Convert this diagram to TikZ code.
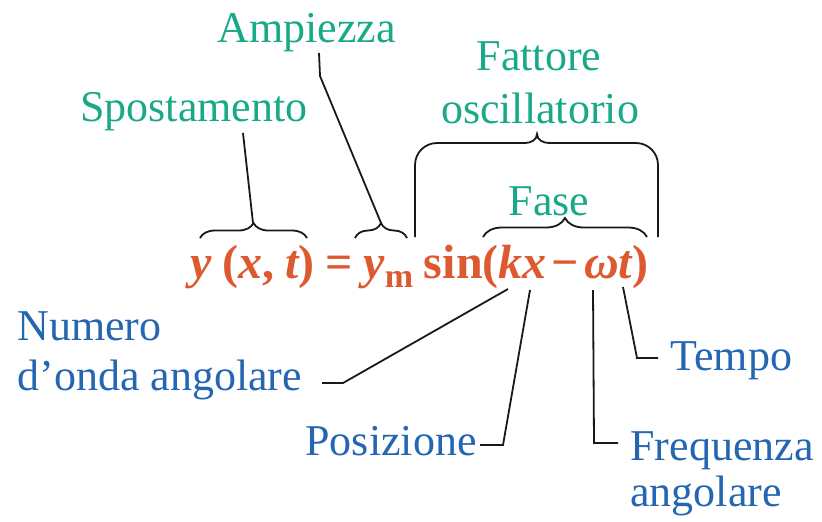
\documentclass[tikz,border=0pt]{standalone}
\usepackage{fontspec}
\setmainfont{Liberation Serif}
\usetikzlibrary{decorations.pathreplacing}
\definecolor{eqred}{RGB}{221,90,48}
\definecolor{labgreen}{RGB}{24,170,136}
\definecolor{labblue}{RGB}{36,102,178}
\tikzset{
  eq/.style   = {font=\fontsize{24}{28}\selectfont\bfseries, text=eqred, inner sep=0pt},
  top/.style  = {font=\fontsize{22}{25}\selectfont, text=labgreen, inner sep=0pt},
  bot/.style  = {font=\fontsize{22}{25}\selectfont, text=labblue, inner sep=0pt},
  lead/.style = {line width=0.9pt, black!90},
  brc/.style  = {line width=0.9pt, black!90, decorate,
                 decoration={brace, amplitude=#1}},
  brc/.default = 7.5pt
}

\begin{document}
\begin{tikzpicture}[x=0.5pt,y=-0.5pt]
  \useasboundingbox (0,0) rectangle (822,521);
  % ---- equation ----
  \node[eq, anchor=base west] (eqn) at (190,278) {\spaceskip=5.4pt\relax
    {\itshape y} ({\itshape x}, {\itshape t}) = {\itshape y}\raisebox{-4.5pt}{\fontsize{17}{17}\selectfont m}
    sin({\itshape kx}\kern2.5pt−\kern2.5pt{\itshape ωt})};
  % ---- upper labels (green) ----
  \node[top, anchor=base west] (ampl) at (217,42) {Ampiezza};
  \node[top, anchor=base west] (spos) at (80,121) {Spostamento};
  \node[top, anchor=base] (fatt1) at (539,70) {Fattore};
  \node[top, anchor=base] (fatt2) at (540,123) {oscillatorio};
  \node[top, anchor=base] (fase) at (549,215) {Fase};
  % ---- lower labels (blue) ----
  \node[bot, anchor=base west] (num1) at (17,340) {Numero};
  \node[bot, anchor=base west] (num2) at (17,390) {d’onda angolare};
  \node[bot, anchor=base east] (posz) at (477,455) {Posizione};
  \node[bot, anchor=base west] (freq1) at (630,460) {Frequenza};
  \node[bot, anchor=base west] (freq2) at (630,506) {angolare};
  \node[bot, anchor=base west] (temp) at (670,370) {Tempo};
  % ---- braces ----
  \draw[brc] (200,238) -- (307,238) coordinate[pos=0.5] (ysmid);
  \draw[brc] (355,238) -- (407,238) coordinate[pos=0.5] (ymmid);
  \draw[brc=9.5pt] (483,237) -- (647,237);
  \draw[line width=0.9pt, black!90] (415,237) -- (415,165)
    to[out=90,in=180] (437,143) -- (525,143) to[out=0,in=-90] (537,134)
    to[out=-90,in=180] (549,143) -- (636,143) to[out=0,in=90] (658,165) -- (658,237);
  % ---- leader lines ----
  \coordinate (spos-a) at (243,133);
  \coordinate (ys-tip) at (253,223);
  \coordinate (ampl-a) at (319,53);
  \coordinate (ampl-b) at (320,76);
  \coordinate (ym-tip) at (381,223);
  \coordinate (num-a)  at (322,383);
  \coordinate (num-b)  at (343,383);
  \coordinate (k-pt)   at (508,289);
  \coordinate (pos-a)  at (480,445);
  \coordinate (pos-b)  at (503,445);
  \coordinate (x-pt)   at (530,290);
  \coordinate (w-pt)   at (593,290);
  \coordinate (frq-b)  at (594,443);
  \coordinate (frq-a)  at (618,443);
  \coordinate (t-pt)   at (623,287);
  \coordinate (tmp-b)  at (637,358);
  \coordinate (tmp-a)  at (658,358);
  \draw[lead] (spos-a) -- (ys-tip);
  \draw[lead] (ampl-a) -- (ampl-b) -- (ym-tip);
  \draw[lead] (num-a) -- (num-b) -- (k-pt);
  \draw[lead] (pos-a) -- (pos-b) -- (x-pt);
  \draw[lead] (w-pt) -- (frq-b) -- (frq-a);
  \draw[lead] (t-pt) -- (tmp-b) -- (tmp-a);
\end{tikzpicture}
\end{document}
